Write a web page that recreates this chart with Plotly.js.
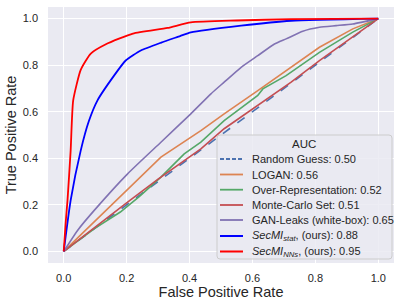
<!DOCTYPE html>
<html><head><meta charset="utf-8">
<script src="https://cdn.plot.ly/plotly-3.0.1.min.js"></script>
<style>html,body{margin:0;padding:0;background:#fff}#c{width:399px;height:306px}</style>
</head><body><div id="c"></div>
<script>
const legendTitle = "AUC";
const names = [
  "Random Guess: 0.50",
  "LOGAN: 0.56",
  "Over-Representation: 0.52",
  "Monte-Carlo Set: 0.51",
  "GAN-Leaks (white-box): 0.65",
  "<i>SecMI</i><sub><i>stat</i></sub>, (ours): 0.88",
  "<i>SecMI</i><sub><i>NNs</i></sub>, (ours): 0.95"
];
const randX = [0, 0.25, 0.5, 0.75, 1];
const randY = [0, 0.25, 0.5, 0.75, 1];
const loganX = [0, 0.097, 0.203, 0.309, 0.436, 0.51, 0.617, 0.707, 0.813, 0.919, 1];
const loganY = [0, 0.128, 0.269, 0.405, 0.519, 0.591, 0.691, 0.777, 0.877, 0.956, 1];
const overX = [0, 0.1, 0.18, 0.24, 0.309, 0.383, 0.436, 0.51, 0.617, 0.633, 0.707, 0.813, 0.919, 1];
const overY = [0, 0.1, 0.169, 0.235, 0.319, 0.419, 0.469, 0.562, 0.67, 0.698, 0.755, 0.855, 0.942, 1];
const mcX = [0, 0.1, 0.203, 0.3, 0.436, 0.51, 0.617, 0.723, 0.813, 0.9, 1];
const mcY = [0, 0.105, 0.212, 0.31, 0.44, 0.527, 0.627, 0.727, 0.82, 0.905, 1];
const ganX = [0, 0.044, 0.097, 0.203, 0.309, 0.404, 0.468, 0.51, 0.564, 0.617, 0.67, 0.707, 0.76, 0.813, 0.866, 0.919, 1];
const ganY = [0, 0.09, 0.176, 0.333, 0.469, 0.591, 0.677, 0.727, 0.791, 0.841, 0.891, 0.913, 0.946, 0.963, 0.97, 0.977, 1];
const statX = [0, 0.022, 0.054, 0.08, 0.107, 0.16, 0.197, 0.245, 0.31, 0.37, 0.404, 0.564, 0.723, 1];
const statY = [0, 0.219, 0.433, 0.56, 0.648, 0.755, 0.82, 0.863, 0.897, 0.925, 0.941, 0.97, 0.991, 1];
const nnsX = [0, 0.006, 0.012, 0.022, 0.03, 0.054, 0.086, 0.134, 0.22, 0.33, 0.404, 0.55, 0.723, 1];
const nnsY = [0, 0.12, 0.219, 0.433, 0.648, 0.78, 0.85, 0.89, 0.936, 0.96, 0.984, 0.992, 0.998, 1];
const tickVals = [0, 0.2, 0.4, 0.6, 0.8, 1.0];
const tickText = ["0.0", "0.2", "0.4", "0.6", "0.8", "1.0"];

const xs = [randX, loganX, overX, mcX, ganX, statX, nnsX];
const ys = [randY, loganY, overY, mcY, ganY, statY, nnsY];
const colors = ["#4c72b0", "#dd8452", "#55a868", "#c44e52", "#8172b3", "blue", "red"];
const dashes = ["dash", "solid", "solid", "solid", "solid", "solid", "solid"];
const widths = [1.6, 1.6, 1.6, 1.6, 1.6, 1.8, 1.8];
const shapesT = ["linear", "linear", "linear", "linear", "spline", "spline", "spline"];

const traces = names.map((n, i) => ({
  x: xs[i], y: ys[i], name: n, type: "scatter", mode: "lines", showlegend: false,
  line: {color: colors[i], dash: dashes[i], width: widths[i], shape: shapesT[i], smoothing: 0.5}
}));

// plot-area geometry (pixels) used to place the hand-drawn legend in paper coords
const L = 48, T = 7, W = 346, H = 256;
const px = v => (v - L) / W;
const py = v => (T + H - v) / H;

// legend box with rounded corners
function roundRect(x0, y0, x1, y1, r) {
  const X = px, Y = py;
  return `M ${X(x0 + r)} ${Y(y0)} L ${X(x1 - r)} ${Y(y0)} Q ${X(x1)} ${Y(y0)} ${X(x1)} ${Y(y0 + r)} ` +
         `L ${X(x1)} ${Y(y1 - r)} Q ${X(x1)} ${Y(y1)} ${X(x1 - r)} ${Y(y1)} ` +
         `L ${X(x0 + r)} ${Y(y1)} Q ${X(x0)} ${Y(y1)} ${X(x0)} ${Y(y1 - r)} ` +
         `L ${X(x0)} ${Y(y0 + r)} Q ${X(x0)} ${Y(y0)} ${X(x0 + r)} ${Y(y0)} Z`;
}
const shapes = [{
  type: "path", xref: "paper", yref: "paper", layer: "above",
  path: roundRect(217, 135, 392, 259, 3),
  fillcolor: "rgba(234,234,242,0.85)", line: {color: "#cccccc", width: 1}
}];
const rowY = [159, 174.5, 189.7, 205, 220, 236, 251.5];
const annotations = [{
  xref: "paper", yref: "paper", x: px(304), y: py(144), xanchor: "center", yanchor: "middle",
  text: legendTitle, showarrow: false, font: {size: 11.5, color: "#262626"}
}];
names.forEach((n, i) => {
  shapes.push({type: "line", xref: "paper", yref: "paper", layer: "above",
    x0: px(220), x1: px(243), y0: py(rowY[i]), y1: py(rowY[i]),
    line: {color: colors[i], width: widths[i] + 0.2, dash: i === 0 ? "4px,2px" : "solid"}});
  annotations.push({xref: "paper", yref: "paper", x: px(250), y: py(rowY[i]),
    xanchor: "left", yanchor: "middle", text: n, showarrow: false,
    font: {size: 11, color: "#262626"}});
});

const font = {family: "Liberation Sans, Arial, sans-serif", color: "#262626", size: 11};
const layout = {
  width: 399, height: 306,
  margin: {l: L, r: 399 - L - W, t: T, b: 306 - T - H},
  paper_bgcolor: "#ffffff", plot_bgcolor: "#eaeaf2",
  font: font,
  showlegend: false,
  xaxis: {range: [-0.05, 1.05], tickvals: tickVals, ticktext: tickText, gridcolor: "#ffffff", gridwidth: 1.3,
          zeroline: false, showline: false, ticks: "", ticklen: 0, ticklabelstandoff: 7,
          title: {text: "False Positive Rate", font: {size: 14.5, color: "#262626"}, standoff: 3}},
  yaxis: {range: [-0.05, 1.05], tickvals: tickVals, ticktext: tickText, gridcolor: "#ffffff", gridwidth: 1.3,
          zeroline: false, showline: false, ticks: "", ticklen: 0, ticklabelstandoff: 9,
          title: {text: "True Positive Rate", font: {size: 14.5, color: "#262626"}, standoff: 2}},
  shapes: shapes,
  annotations: annotations
};
Plotly.newPlot("c", traces, layout, {displayModeBar: false, staticPlot: true});
</script>
</body></html>
